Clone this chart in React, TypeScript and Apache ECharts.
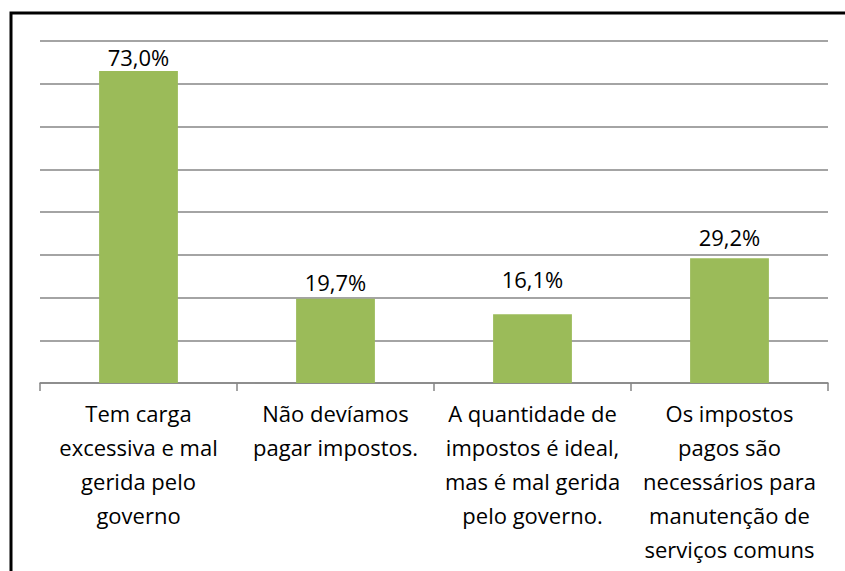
import React, { useEffect, useRef } from "react";
import * as echarts from "echarts";

const categories: string[] = [
  "Tem carga\nexcessiva e mal\ngerida pelo\ngoverno",
  "Não devíamos\npagar impostos.",
  "A quantidade de\nimpostos é ideal,\nmas é mal gerida\npelo governo.",
  "Os impostos\npagos são\nnecessários para\nmanutenção de\nserviços comuns",
];
const values: number[] = [73.0, 19.7, 16.1, 29.2];

const FONT = "'Open Sans', 'Noto Sans', sans-serif";
const labelGap = [3, 6, 24, 10];

export default function App() {
  const ref = useRef<HTMLDivElement>(null);
  useEffect(() => {
    if (!ref.current) return;
    const chart = echarts.init(ref.current, null, { renderer: "svg" });
    chart.setOption({
      animation: false,
      backgroundColor: "#ffffff",
      grid: { left: 40, right: 17, top: 41, bottom: 188, containLabel: false },
      graphic: [
        {
          type: "rect",
          shape: { x: 11, y: 13, width: 1000, height: 1000 },
          style: { fill: "none", stroke: "#000000", lineWidth: 3 },
          silent: true,
        },
      ],
      xAxis: {
        type: "category",
        data: categories,
        axisLine: { show: true, lineStyle: { color: "#868686", width: 1.5 } },
        axisTick: { show: true, length: 8, alignWithLabel: false, lineStyle: { color: "#868686", width: 1.5 } },
        axisLabel: {
          interval: 0,
          color: "#000000",
          fontFamily: FONT,
          fontSize: 22,
          lineHeight: 34,
          margin: 13,
          align: "center",
        },
      },
      yAxis: {
        type: "value",
        min: 0,
        max: 80,
        interval: 10,
        axisLabel: { show: false },
        axisLine: { show: false },
        axisTick: { show: false },
        splitLine: { show: true, lineStyle: { color: "#868686", width: 1.5 } },
      },
      series: [
        {
          type: "bar",
          data: values.map((v, i) => ({ value: v, label: { distance: labelGap[i] } })),
          barWidth: "40%",
          itemStyle: { color: "#9BBB59" },
          label: {
            show: true,
            position: "top",
            color: "#000000",
            fontFamily: FONT,
            fontSize: 22,
            formatter: (p: any) => p.value.toFixed(1).replace(".", ",") + "%",
          },
        },
      ],
    });
    return () => chart.dispose();
  }, []);
  return (
    <div
      ref={ref}
      style={{ position: "fixed", left: 0, top: 0, width: 845, height: 571 }}
    />
  );
}
